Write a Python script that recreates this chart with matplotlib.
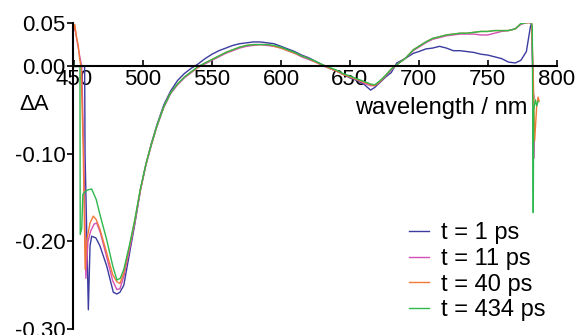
import matplotlib
matplotlib.use("Agg")
import matplotlib.pyplot as plt

plt.rcParams["font.family"] = ["Liberation Sans", "DejaVu Sans"]

# shared wavelength grid for the main part of the spectra (nm)
wl_main = [486, 490, 494, 498, 502, 506, 510, 515, 520, 525, 530, 535, 540, 545,
           550, 555, 560, 565, 570, 575, 580, 585, 590, 595, 600, 605, 610, 615,
           620, 625, 630, 635, 640, 645, 650, 655, 660, 665, 668, 672, 676, 680,
           684, 690, 696, 700, 705, 710, 715, 720, 725, 730, 735, 740, 745, 750,
           755, 760, 765, 770, 774, 778, 781]

# t = 1 ps
blue_head_wl = [449.0, 452.0, 457.6, 457.9, 460.3, 461.5, 462.7, 465.8, 468.7,
                473.6, 478.4, 481.0, 483.2]
blue_head = [0.0, 0.0, 0.0, -0.10, -0.278, -0.205, -0.194, -0.196, -0.205,
             -0.228, -0.258, -0.260, -0.258]
blue_main = [-0.250, -0.215, -0.180, -0.142, -0.112, -0.088, -0.067, -0.044,
             -0.028, -0.016, -0.008, -0.002, 0.003, 0.009, 0.014, 0.018, 0.021,
             0.024, 0.026, 0.027, 0.028, 0.028, 0.027, 0.026, 0.023, 0.020,
             0.017, 0.013, 0.010, 0.006, 0.002, -0.002, -0.005, -0.009, -0.013,
             -0.016, -0.020, -0.027, -0.024, -0.018, -0.012, -0.007, 0.004,
             0.009, 0.015, 0.017, 0.020, 0.021, 0.023, 0.021, 0.018, 0.018,
             0.017, 0.016, 0.014, 0.013, 0.011, 0.009, 0.005, 0.004, 0.007,
             0.017, 0.046]
blue_tail_wl = [781.8, 782.6, 783.0, 783.5]
blue_tail = [0.049, 0.0, -0.030, -0.036]

# t = 11 ps
pink_head_wl = [449.5, 450.5, 452.0, 454.0, 455.5, 457.0, 458.5, 460.0, 462.0,
                464.5, 466.4, 469.0, 473.6, 478.0, 481.0, 483.2]
pink_head = [0.040, 0.045, 0.030, 0.012, 0.0, -0.10, -0.242, -0.200, -0.188,
             -0.180, -0.179, -0.190, -0.218, -0.245, -0.255, -0.254]
pink_main = [-0.240, -0.210, -0.178, -0.142, -0.113, -0.090, -0.069, -0.047,
             -0.031, -0.021, -0.013, -0.007, -0.001, 0.003, 0.007, 0.011, 0.015,
             0.018, 0.021, 0.023, 0.024, 0.025, 0.024, 0.023, 0.021, 0.018,
             0.015, 0.011, 0.008, 0.005, 0.001, -0.002, -0.005, -0.009, -0.012,
             -0.015, -0.019, -0.022, -0.022, -0.017, -0.011, -0.004, 0.002,
             0.009, 0.018, 0.022, 0.027, 0.031, 0.033, 0.035, 0.036, 0.037,
             0.037, 0.037, 0.036, 0.036, 0.038, 0.040, 0.041, 0.043, 0.048,
             0.050, 0.050]
pink_tail_wl = [781.8, 782.8, 783.3, 783.6]
pink_tail = [0.048, -0.020, -0.105, -0.085]

# t = 40 ps
orange_head_wl = [449.3, 450.5, 451.5, 453.0, 454.0, 455.0, 456.5, 458.0, 459.0,
                  461.5, 463.9, 466.0, 468.7, 473.6, 478.0, 481.0, 483.2]
orange_head = [0.040, 0.048, 0.035, 0.024, 0.008, 0.0, -0.09, -0.232, -0.200,
               -0.179, -0.171, -0.175, -0.186, -0.213, -0.238, -0.246, -0.248]
orange_main = [-0.236, -0.207, -0.176, -0.141, -0.112, -0.089, -0.068, -0.046,
               -0.030, -0.020, -0.012, -0.006, -0.001, 0.004, 0.008, 0.012,
               0.016, 0.019, 0.022, 0.024, 0.025, 0.025, 0.025, 0.023, 0.021,
               0.018, 0.015, 0.012, 0.009, 0.005, 0.002, -0.002, -0.005, -0.009,
               -0.012, -0.015, -0.018, -0.021, -0.022, -0.017, -0.010, -0.003,
               0.002, 0.009, 0.019, 0.023, 0.028, 0.032, 0.034, 0.036, 0.037,
               0.038, 0.038, 0.039, 0.040, 0.040, 0.041, 0.041, 0.041, 0.043,
               0.049, 0.050, 0.050]
orange_tail_wl = [781.8, 783.0, 784.0, 785.5, 786.5, 787.3]
orange_tail = [0.049, -0.010, -0.085, -0.045, -0.035, -0.040]

# t = 434 ps
green_head_wl = [449.0, 449.8, 454.2, 454.4, 455.5, 456.3, 458.0, 460.0, 462.7,
                 466.0, 469.0, 473.6, 478.0, 481.0, 483.5]
green_head = [0.013, 0.0, 0.0, -0.192, -0.185, -0.146, -0.143, -0.141, -0.140,
              -0.152, -0.171, -0.198, -0.228, -0.244, -0.242]
green_main = [-0.232, -0.205, -0.175, -0.140, -0.112, -0.089, -0.068, -0.046,
              -0.030, -0.020, -0.012, -0.006, 0.000, 0.004, 0.008, 0.012, 0.016,
              0.019, 0.022, 0.024, 0.025, 0.025, 0.025, 0.024, 0.022, 0.019,
              0.016, 0.012, 0.009, 0.006, 0.002, -0.001, -0.004, -0.008, -0.011,
              -0.014, -0.017, -0.020, -0.021, -0.016, -0.010, -0.003, 0.002,
              0.009, 0.019, 0.023, 0.028, 0.032, 0.034, 0.036, 0.037, 0.038,
              0.038, 0.039, 0.040, 0.040, 0.041, 0.041, 0.041, 0.043, 0.049,
              0.050, 0.051]
green_tail_wl = [782.3, 783.0, 783.3, 784.5, 785.5, 786.5]
green_tail = [0.046, -0.167, -0.050, -0.038, -0.045, -0.040]

labels = ["t = 1 ps", "t = 11 ps", "t = 40 ps", "t = 434 ps"]
colors = ["#3b3ba0", "#d64fb4", "#f07a35", "#2eb84e"]

x_ticks = [450, 500, 550, 600, 650, 700, 750, 800]
y_ticks = [0.05, 0.00, -0.10, -0.20, -0.30]
y_ticklabels = ["0.05", "0.00", "-0.10", "-0.20", "-0.30"]

series = [
    (blue_head_wl + wl_main + blue_tail_wl, blue_head + blue_main + blue_tail),
    (pink_head_wl + wl_main + pink_tail_wl, pink_head + pink_main + pink_tail),
    (orange_head_wl + wl_main + orange_tail_wl, orange_head + orange_main + orange_tail),
    (green_head_wl + wl_main + green_tail_wl, green_head + green_main + green_tail),
]

fig = plt.figure(figsize=(5.79, 3.35), dpi=100)
ax = fig.add_axes([72.5 / 579, 6 / 335, (556.7 - 72.5) / 579, (329 - 22.7) / 335])

for (x, y), c, lab in zip(series, colors, labels):
    ax.plot(x, y, color=c, lw=1.0, label=lab)

ax.set_xlim(448.8, 800)
ax.set_ylim(-0.30, 0.05)

ax.spines["top"].set_visible(False)
ax.spines["right"].set_visible(False)
ax.spines["bottom"].set_position(("data", 0))
for s in ["left", "bottom"]:
    ax.spines[s].set_linewidth(1.5)

ax.set_xticks(x_ticks)
ax.set_xticklabels([str(t) for t in x_ticks])
ax.set_yticks(y_ticks)
ax.set_yticklabels(y_ticklabels)
ax.tick_params(axis="x", direction="in", length=4, width=1.2, pad=2, labelsize=16)
ax.tick_params(axis="y", direction="out", length=4, width=1.2, pad=1, labelsize=16)

fig.text(34 / 579, 1 - 104 / 335, "ΔA", fontsize=16, ha="center", va="center")
fig.text(441.5 / 579, 1 - 108 / 335, "wavelength / nm", fontsize=17,
         ha="center", va="center")

ax.legend(loc="upper left", bbox_to_anchor=(409 / 579, 1 - 222 / 335),
          bbox_transform=fig.transFigure, frameon=False, fontsize=17,
          handlelength=0.85, handletextpad=0.5, labelspacing=0.16,
          borderpad=0, borderaxespad=0)

fig.savefig("out.png", dpi=100)
